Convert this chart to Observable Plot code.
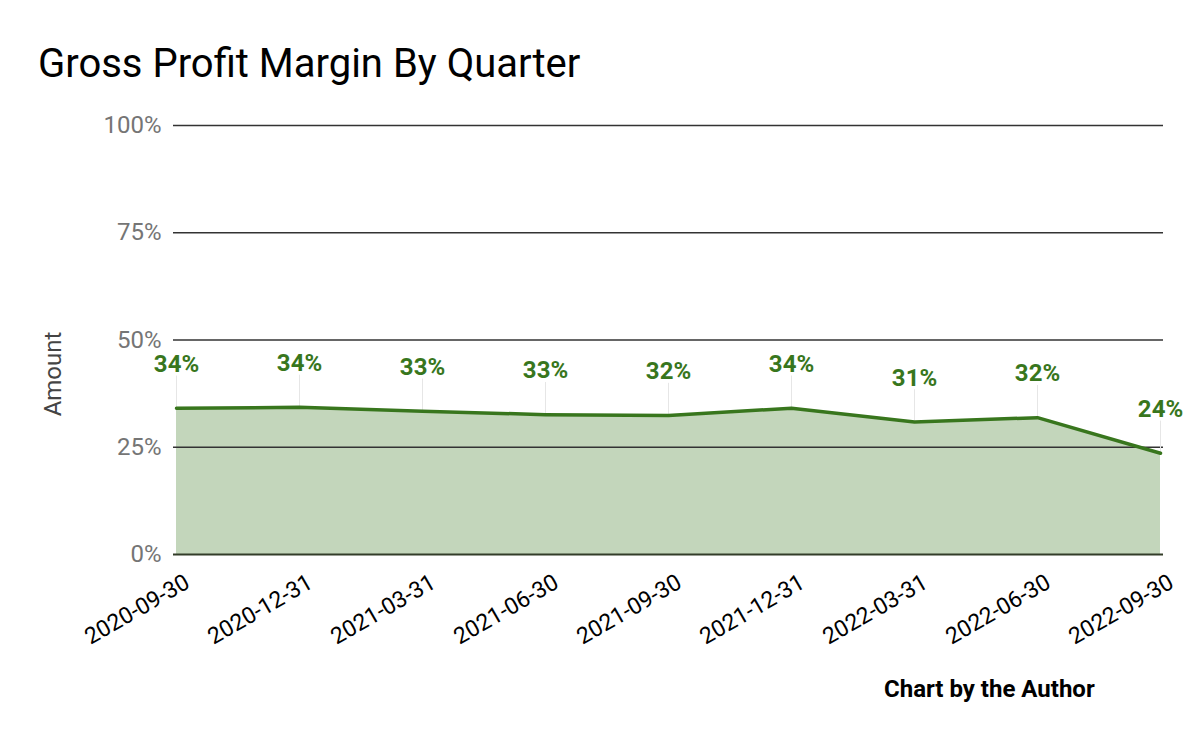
<!DOCTYPE html>
<html>
<head>
<meta charset="utf-8">
<script src="https://cdn.jsdelivr.net/npm/d3@7"></script>
<script src="https://cdn.jsdelivr.net/npm/@observablehq/plot@0.6"></script>
<style>
  body { margin: 0; background: #fff; font-family: Roboto, sans-serif; }
  #wrap { position: relative; width: 1200px; height: 742px; overflow: hidden; }
  #title { position: absolute; left: 38px; top: 40px; font-size: 40px; line-height: 48px; color: #000; white-space: nowrap; }
  #chart { position: absolute; left: 0; top: 100px; }
  #ylabel { position: absolute; left: 53px; top: 374px; transform: translate(-50%, -50%) rotate(-90deg); font-size: 24px; line-height: 28px; color: #444; white-space: nowrap; }
  #caption { position: absolute; left: 884px; top: 675px; font-size: 24px; font-weight: bold; line-height: 28px; color: #000; white-space: nowrap; }
</style>
</head>
<body>
<div id="wrap">
  <div id="title">Gross Profit Margin By Quarter</div>
  <div id="chart"></div>
  <div id="ylabel"></div>
  <div id="caption">Chart by the Author</div>
</div>
<script>
const quarters = ["2020-09-30","2020-12-31","2021-03-31","2021-06-30","2021-09-30","2021-12-31","2022-03-31","2022-06-30","2022-09-30"];
const margins = [34.1, 34.3, 33.4, 32.6, 32.4, 34.1, 30.9, 31.9, 23.6];
const labels = ["34%","34%","33%","33%","32%","34%","31%","32%","24%"];
const yTicks = [0, 25, 50, 75, 100];
const yLabel = "Amount";

document.getElementById("ylabel").textContent = yLabel;

const data = quarters.map((q, i) => ({q, v: margins[i], label: labels[i]}));
const green = "#38761d";

const plot = Plot.plot({
  width: 1200,
  height: 554,
  marginLeft: 173,
  marginRight: 37,
  marginTop: 25,
  marginBottom: 100,
  style: {fontFamily: "Roboto, sans-serif", background: "transparent", overflow: "visible"},
  x: {type: "point", domain: quarters, padding: 0, label: null},
  y: {domain: [0, 100], label: null},
  marks: [
    Plot.areaY(data, {x: "q", y: "v", fill: green, fillOpacity: 0.3}),
    Plot.ruleY(yTicks.filter(t => t > 0), {stroke: "#333", strokeWidth: 1.3}),
    Plot.ruleY([0], {stroke: "#333d29", strokeWidth: 2}),
    Plot.ruleX(data, {x: "q", y1: "v", y2: d => d.v + 7.5, stroke: "#e6e6e6", strokeWidth: 1}),
    Plot.lineY(data, {x: "q", y: "v", stroke: green, strokeWidth: 3.5}),
    Plot.text(data, {x: "q", y: "v", text: "label", dy: -44, fill: green, fontWeight: "bold", fontSize: 24}),
    Plot.axisY({ticks: yTicks, tickFormat: d => d + "%", tickSize: 0, tickPadding: 12, fontSize: 24, color: "#757575", label: null}),
    Plot.axisX({tickSize: 0, tickRotate: -30, fontSize: 23, tickPadding: 26, dx: 11, color: "#000", label: null})
  ]
});
document.getElementById("chart").appendChild(plot);
</script>
</body>
</html>
